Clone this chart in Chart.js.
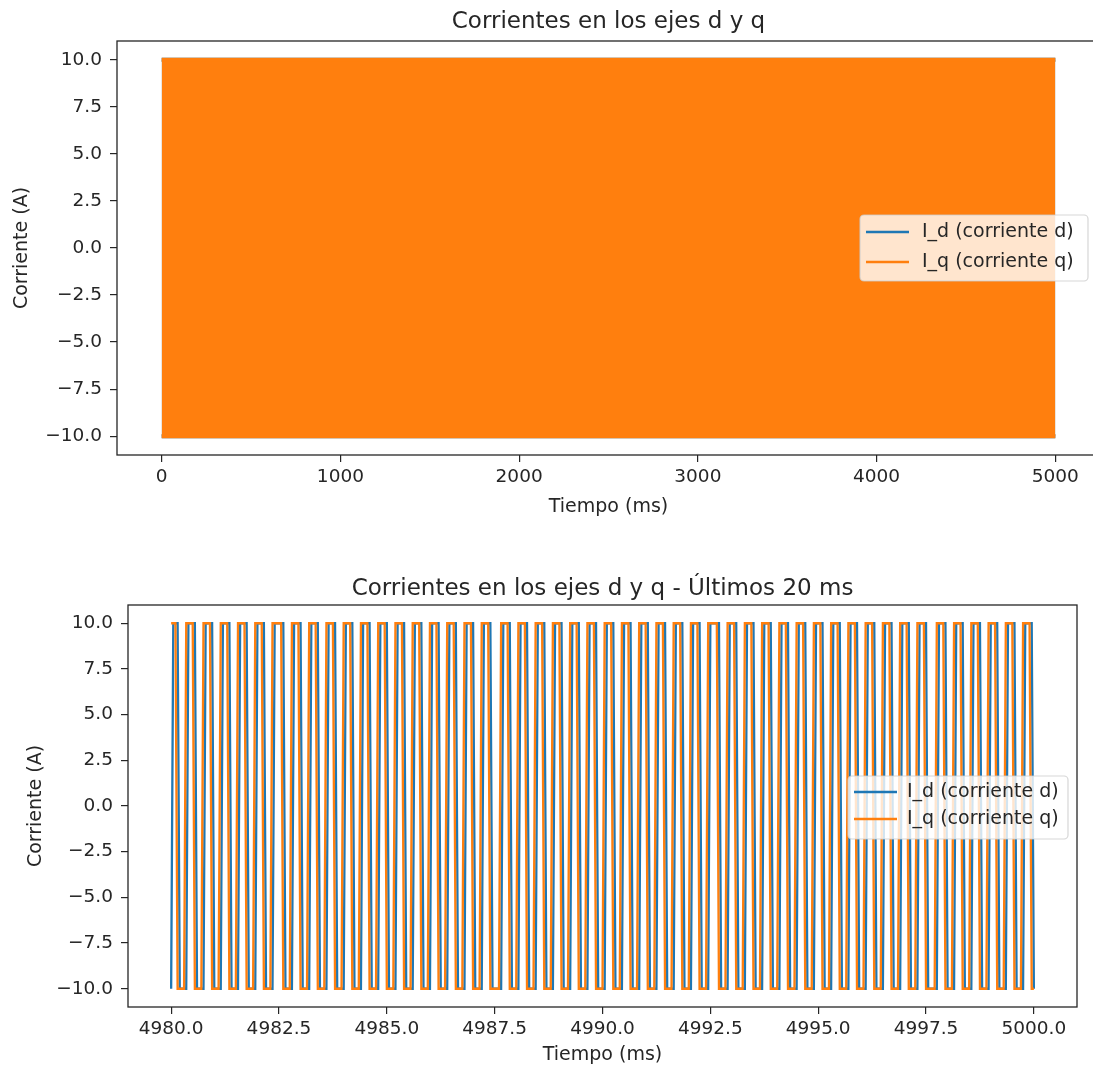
<!DOCTYPE html>
<html lang="es">
<head>
<meta charset="utf-8">
<title>Corrientes en los ejes d y q</title>
<script src="https://cdn.jsdelivr.net/npm/chart.js@4.4.1/dist/chart.umd.min.js"></script>
<style>
    html, body { margin: 0; padding: 0; background: #fff; overflow: hidden; }
    body { width: 1093px; height: 1068px; position: relative; }
    #grafico-completo { position: absolute; left: 0; top: 0; width: 1110px; height: 530px; }
    #grafico-ultimos { position: absolute; left: 0; top: 540px; width: 1093px; height: 528px; }
</style>
</head>
<body>
<canvas id="grafico-completo" width="1110" height="530"></canvas>
<canvas id="grafico-ultimos" width="1093" height="528"></canvas>
<script>
// DATOS: simulación completa (0 - 5000 ms). La oscilación es tan densa que sólo se ve su envolvente
const tiempoEnvolvente = [0, 5000];
const idMax = [10, 10];
const idMin = [-10, -10];
const iqMax = [10, 10];
const iqMin = [-10, -10];

// DATOS: últimos 20 ms, muestreo cada 0.05 ms (401 muestras)
const tInicio = 4980;
const dtMuestreo = 0.05;

const idUltimos = [
    -10,
    10,10,10,
    -10,-10,-10,-10,10,10,10,10,
    -10,-10,-10,-10,10,10,10,10,
    -10,-10,-10,-10,10,10,10,10,
    -10,-10,-10,-10,10,10,10,10,
    -10,-10,-10,-10,10,10,10,10,
    -10,-10,-10,-10,10,10,10,10,10,
    -10,-10,-10,-10,10,10,10,10,
    -10,-10,-10,-10,10,10,10,10,
    -10,-10,-10,-10,10,10,10,10,
    -10,-10,-10,-10,10,10,10,10,
    -10,-10,-10,-10,10,10,10,10,
    -10,-10,-10,-10,10,10,10,10,
    -10,-10,-10,-10,10,10,10,10,
    -10,-10,-10,-10,10,10,10,10,
    -10,-10,-10,-10,10,10,10,10,
    -10,-10,-10,-10,10,10,10,10,
    -10,-10,-10,-10,10,10,10,10,
    -10,-10,-10,-10,10,10,10,10,
    -10,-10,-10,-10,-10,10,10,10,10,
    -10,-10,-10,-10,10,10,10,10,
    -10,-10,-10,-10,10,10,10,10,
    -10,-10,-10,-10,10,10,10,10,
    -10,-10,-10,-10,10,10,10,10,
    -10,-10,-10,-10,10,10,10,10,
    -10,-10,-10,-10,10,10,10,10,
    -10,-10,-10,-10,10,10,10,10,
    -10,-10,-10,-10,10,10,10,10,
    -10,-10,-10,-10,10,10,10,10,
    -10,-10,-10,-10,10,10,10,10,
    -10,-10,-10,-10,10,10,10,10,
    -10,-10,-10,-10,10,10,10,10,10,
    -10,-10,-10,-10,10,10,10,10,
    -10,-10,-10,-10,10,10,10,10,
    -10,-10,-10,-10,10,10,10,10,
    -10,-10,-10,-10,10,10,10,10,
    -10,-10,-10,-10,10,10,10,10,
    -10,-10,-10,-10,10,10,10,10,
    -10,-10,-10,-10,10,10,10,10,
    -10,-10,-10,-10,10,10,10,10,
    -10,-10,-10,-10,10,10,10,10,
    -10,-10,-10,-10,10,10,10,10,
    -10,-10,-10,-10,10,10,10,10,
    -10,-10,-10,-10,10,10,10,10,
    -10,-10,-10,-10,-10,10,10,10,10,
    -10,-10,-10,-10,10,10,10,10,
    -10,-10,-10,-10,10,10,10,10,
    -10,-10,-10,-10,10,10,10,10,
    -10,-10,-10,-10,10,10,10,10,
    -10,-10,-10,-10,10,10,10,10,
    -10
];

const iqUltimos = [
    10,10,10,
    -10,-10,-10,-10,10,10,10,10,
    -10,-10,-10,-10,10,10,10,10,
    -10,-10,-10,-10,10,10,10,10,
    -10,-10,-10,-10,10,10,10,10,
    -10,-10,-10,-10,10,10,10,10,
    -10,-10,-10,-10,10,10,10,10,10,
    -10,-10,-10,-10,10,10,10,10,
    -10,-10,-10,-10,10,10,10,10,
    -10,-10,-10,-10,10,10,10,10,
    -10,-10,-10,-10,10,10,10,10,
    -10,-10,-10,-10,10,10,10,10,
    -10,-10,-10,-10,10,10,10,10,
    -10,-10,-10,-10,10,10,10,10,
    -10,-10,-10,-10,10,10,10,10,
    -10,-10,-10,-10,10,10,10,10,
    -10,-10,-10,-10,10,10,10,10,
    -10,-10,-10,-10,10,10,10,10,
    -10,-10,-10,-10,10,10,10,10,
    -10,-10,-10,-10,-10,10,10,10,10,
    -10,-10,-10,-10,10,10,10,10,
    -10,-10,-10,-10,10,10,10,10,
    -10,-10,-10,-10,10,10,10,10,
    -10,-10,-10,-10,10,10,10,10,
    -10,-10,-10,-10,10,10,10,10,
    -10,-10,-10,-10,10,10,10,10,
    -10,-10,-10,-10,10,10,10,10,
    -10,-10,-10,-10,10,10,10,10,
    -10,-10,-10,-10,10,10,10,10,
    -10,-10,-10,-10,10,10,10,10,
    -10,-10,-10,-10,10,10,10,10,
    -10,-10,-10,-10,10,10,10,10,10,
    -10,-10,-10,-10,10,10,10,10,
    -10,-10,-10,-10,10,10,10,10,
    -10,-10,-10,-10,10,10,10,10,
    -10,-10,-10,-10,10,10,10,10,
    -10,-10,-10,-10,10,10,10,10,
    -10,-10,-10,-10,10,10,10,10,
    -10,-10,-10,-10,10,10,10,10,
    -10,-10,-10,-10,10,10,10,10,
    -10,-10,-10,-10,10,10,10,10,
    -10,-10,-10,-10,10,10,10,10,
    -10,-10,-10,-10,10,10,10,10,
    -10,-10,-10,-10,10,10,10,10,
    -10,-10,-10,-10,-10,10,10,10,10,
    -10,-10,-10,-10,10,10,10,10,
    -10,-10,-10,-10,10,10,10,10,
    -10,-10,-10,-10,10,10,10,10,
    -10,-10,-10,-10,10,10,10,10,
    -10,-10,-10,-10,10,10,10,10,
    -10,-10
];

const tiempoUltimos = idUltimos.map((_, i) => +(tInicio + i * dtMuestreo).toFixed(2));

// TICKS
const ticksY = [-10, -7.5, -5, -2.5, 0, 2.5, 5, 7.5, 10];
const ticksXCompleto = [0, 1000, 2000, 3000, 4000, 5000];
const ticksXUltimos = [4980, 4982.5, 4985, 4987.5, 4990, 4992.5, 4995, 4997.5, 5000];

const etiquetaId = 'I_d (corriente d)';
const etiquetaIq = 'I_q (corriente q)';
const AZUL = '#1f77b4';
const NARANJA = '#ff7f0e';
const TEXTO = '#262626';
const FAMILIA = '"DejaVu Sans", Verdana, sans-serif';

const puntos = (xs, ys) => xs.map((x, i) => ({ x: x, y: ys[i] }));
const conMenos = s => s.replace('-', '\u2212'); // signo menos tipográfico como matplotlib

// Marco, títulos y leyenda al estilo matplotlib
const estiloMpl = {
    id: 'estiloMpl',
    afterDraw(chart, args, o) {
        const ctx = chart.ctx;
        const a = chart.chartArea;
        const cx = (a.left + a.right) / 2;
        ctx.save();
        ctx.strokeStyle = TEXTO;
        ctx.lineWidth = 1.3;
        ctx.strokeRect(a.left, a.top, a.right - a.left, a.bottom - a.top);

        ctx.fillStyle = TEXTO;
        ctx.textAlign = 'center';
        ctx.textBaseline = 'middle';
        ctx.font = '23px ' + FAMILIA;
        ctx.fillText(o.titulo, cx, o.tituloY);
        ctx.font = '19px ' + FAMILIA;
        ctx.fillText('Tiempo (ms)', cx, o.etiquetaXY);
        ctx.save();
        ctx.translate(o.etiquetaYX, (a.top + a.bottom) / 2);
        ctx.rotate(-Math.PI / 2);
        ctx.fillText('Corriente (A)', 0, 0);
        ctx.restore();

        // leyenda
        const L = o.leyenda;
        ctx.beginPath();
        ctx.roundRect(L.x, L.y, L.w, L.h, 4);
        ctx.fillStyle = 'rgba(255,255,255,0.8)';
        ctx.fill();
        ctx.strokeStyle = 'rgba(204,204,204,0.8)';
        ctx.lineWidth = 1.2;
        ctx.stroke();
        ctx.textAlign = 'left';
        ctx.font = '19px ' + FAMILIA;
        [[etiquetaId, AZUL], [etiquetaIq, NARANJA]].forEach(([txt, col], i) => {
            const y = L.filas[i];
            ctx.strokeStyle = col;
            ctx.lineWidth = 2.3;
            ctx.beginPath();
            ctx.moveTo(L.x + 6, y);
            ctx.lineTo(L.x + 49, y);
            ctx.stroke();
            ctx.fillStyle = TEXTO;
            ctx.fillText(txt, L.x + L.texto, y);
        });
        ctx.restore();
    }
};

function escalas(min, max, ticksX, fmtX, anchoY, altoX) {
    const eje = {
        grid: { display: true, drawOnChartArea: false, drawTicks: true, tickLength: 7, color: TEXTO, tickColor: TEXTO, lineWidth: 1.2 },
        border: { display: false }
    };
    return {
        x: {
            type: 'linear', min: min, max: max, ...eje,
            afterBuildTicks: s => { s.ticks = ticksX.map(v => ({ value: v })); },
            afterFit: s => { s.height = altoX; },
            ticks: { color: TEXTO, font: { family: FAMILIA, size: 18.5 }, padding: 4, maxRotation: 0, autoSkip: false, callback: fmtX }
        },
        y: {
            type: 'linear', min: -11, max: 11, ...eje,
            afterBuildTicks: s => { s.ticks = ticksY.map(v => ({ value: v })); },
            afterFit: s => { s.width = anchoY; },
            ticks: { color: TEXTO, font: { family: FAMILIA, size: 18.5 }, padding: 8, autoSkip: false, callback: v => conMenos(v.toFixed(1)) }
        }
    };
}

const base = { responsive: false, animation: false, events: [], elements: { point: { radius: 0 }, line: { tension: 0 } } };

// GRÁFICO SUPERIOR: simulación completa
new Chart(document.getElementById('grafico-completo'), {
    type: 'line',
    data: {
        datasets: [
            { label: etiquetaIq, data: puntos(tiempoEnvolvente, iqMax), borderColor: NARANJA, backgroundColor: NARANJA, borderWidth: 4, fill: '+1', order: 0 },
            { label: etiquetaIq, data: puntos(tiempoEnvolvente, iqMin), borderColor: NARANJA, backgroundColor: NARANJA, borderWidth: 4, fill: false, order: 0 },
            { label: etiquetaId, data: puntos(tiempoEnvolvente, idMax), borderColor: AZUL, backgroundColor: AZUL, borderWidth: 4, fill: '+1', order: 1 },
            { label: etiquetaId, data: puntos(tiempoEnvolvente, idMin), borderColor: AZUL, backgroundColor: AZUL, borderWidth: 4, fill: false, order: 1 }
        ]
    },
    options: {
        ...base,
        layout: { padding: { top: 41, right: 10, left: 0, bottom: 0 } },
        scales: escalas(-250, 5250, ticksXCompleto, v => String(v), 117, 75),
        plugins: {
            legend: { display: false },
            title: { display: false },
            tooltip: { enabled: false },
            estiloMpl: {
                titulo: 'Corrientes en los ejes d y q', tituloY: 22, etiquetaXY: 507, etiquetaYX: 22,
                leyenda: { x: 860, y: 215, w: 228, h: 66, filas: [232, 262], texto: 62 }
            }
        }
    },
    plugins: [estiloMpl]
});

// GRÁFICO INFERIOR: últimos 20 ms
new Chart(document.getElementById('grafico-ultimos'), {
    type: 'line',
    data: {
        datasets: [
            { label: etiquetaId, data: puntos(tiempoUltimos, idUltimos), borderColor: AZUL, borderWidth: 2.3, fill: false, order: 1 },
            { label: etiquetaIq, data: puntos(tiempoUltimos, iqUltimos), borderColor: NARANJA, borderWidth: 2.3, fill: false, order: 0 }
        ]
    },
    options: {
        ...base,
        layout: { padding: { top: 65, right: 16, left: 0, bottom: 0 } },
        scales: escalas(4979, 5001, ticksXUltimos, v => v.toFixed(1), 128, 61),
        plugins: {
            legend: { display: false },
            title: { display: false },
            tooltip: { enabled: false },
            estiloMpl: {
                titulo: 'Corrientes en los ejes d y q - Últimos 20 ms', tituloY: 49, etiquetaXY: 515, etiquetaYX: 36,
                leyenda: { x: 848, y: 236, w: 220, h: 63, filas: [252, 279], texto: 59 }
            }
        }
    },
    plugins: [estiloMpl]
});
</script>
</body>
</html>
